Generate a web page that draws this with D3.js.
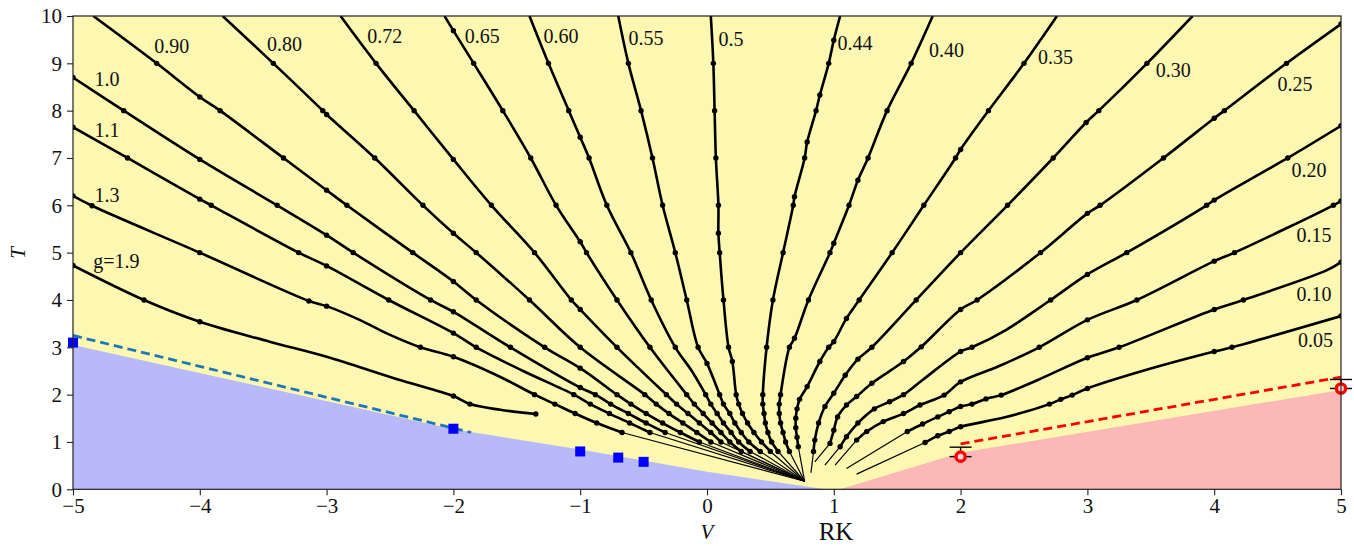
<!DOCTYPE html>
<html>
<head>
<meta charset="utf-8">
<script src="https://cdn.jsdelivr.net/npm/d3@7"></script>
<style>
body { margin: 0; background: #fff; }
text { font-family: "Liberation Serif", "DejaVu Serif", serif; fill: #111; }
</style>
</head>
<body>
<svg id="chart" width="1354" height="546"></svg>
<script>
// tick values
var xTicks = [-5, -4, -3, -2, -1, 0, 1, 2, 3, 4, 5];
var yTicks = [0, 1, 2, 3, 4, 5, 6, 7, 8, 9, 10];

// curves of constant g: [V, T] measured points, [V, T, 0] = shape point with no marker
var g190 = [[-5,4.73],[-4.44,4.0],[-4.0,3.54],[-3.45,3.12,0],[-3.0,2.8,0],[-2.45,2.33,0],[-2.0,1.97],[-1.87,1.8],[-1.63,1.68,0],[-1.35,1.59]];
var g130 = [[-5,6.2],[-4.85,5.99],[-4.0,5.0],[-3.14,3.98],[-3.0,3.87],[-2.74,3.58,0],[-2.53,3.3,0],[-2.26,3.0],[-2.0,2.8],[-1.65,2.4,0],[-1.36,2.0],[-1.2,1.8],[-1.04,1.6],[-0.87,1.4],[-0.67,1.2]];
var g110 = [[-5,7.65],[-4.57,7.0],[-4.0,6.13],[-3.91,6.0],[-3.22,5.0],[-3.0,4.72],[-2.51,4.0],[-2.0,3.3],[-1.82,3.0],[-1.45,2.5,0],[-1.05,2.0],[-0.92,1.8],[-0.77,1.6],[-0.61,1.4],[-0.45,1.2]];
var g100 = [[-5,8.7],[-4.6,8.0],[-4.0,6.97],[-3.39,6.0],[-3.0,5.37],[-2.79,5.0],[-2.18,4.0],[-2.0,3.75],[-1.55,3.0],[-1.0,2.15],[-0.88,2.0],[-0.76,1.8],[-0.62,1.6],[-0.48,1.4],[-0.33,1.2]];
var g090 = [[-4.84,10,0],[-4.34,9.0],[-4.0,8.29],[-3.84,8.0],[-3.34,7.0],[-3.0,6.32],[-2.84,6.0],[-2.32,5.0],[-2.0,4.39],[-1.82,4.0],[-1.28,3.0],[-1.0,2.56],[-0.71,2.0],[-0.6,1.8],[-0.48,1.6],[-0.35,1.4],[-0.21,1.2],[-0.06,1.0]];
var g080 = [[-3.82,10,0],[-3.42,9.0],[-3.03,8.0],[-3.0,7.92],[-2.62,7.0],[-2.24,6.0],[-2.0,5.41],[-1.82,5.0],[-1.4,4.0],[-1.0,3.0],[-0.49,2.0],[-0.4,1.8],[-0.3,1.6],[-0.19,1.4],[-0.08,1.2],[0.03,1.0]];
var g072 = [[-2.89,10,0],[-2.61,9.0],[-2.31,8.0],[-2.0,6.97],[-1.7,6.0],[-1.36,5.0],[-1.07,4.0],[-1.0,3.8],[-0.71,3.0],[-0.32,2.0],[-0.24,1.8],[-0.15,1.6],[-0.06,1.4],[0.03,1.2],[0.11,1.0]];
var g065 = [[-2.07,10,0],[-2.0,9.69],[-1.84,9.0],[-1.61,8.0],[-1.39,7.0],[-1.19,6.0],[-1.0,5.23],[-0.95,5.0],[-0.71,4.0],[-0.45,3.0],[-0.16,2.0],[-0.1,1.8],[-0.03,1.6],[0.04,1.4],[0.11,1.2],[0.18,1.0],[0.27,0.8]];
var g060 = [[-1.4,10,0],[-1.25,9.0],[-1.09,8.0],[-1.0,7.44],[-0.93,7.0],[-0.79,6.0],[-0.6,5.0],[-0.44,4.0],[-0.25,3.0],[-0.12,2.5,0],[-0.01,2.0],[0.03,1.8],[0.08,1.6],[0.13,1.4],[0.19,1.2],[0.25,1.0],[0.34,0.8]];
var g055 = [[-0.7,10,0],[-0.62,9.0],[-0.52,8.0],[-0.43,7.0],[-0.35,6.0],[-0.25,5.0],[-0.16,4.0],[-0.07,3.0],[0.0,2.66],[0.1,2.0],[0.13,1.8],[0.18,1.6],[0.22,1.4],[0.27,1.2],[0.33,1.0],[0.42,0.8]];
var g050 = [[0.03,10,0],[0.05,9.0],[0.06,8.0],[0.07,7.0],[0.09,6.0],[0.09,5.41],[0.1,5.0],[0.13,4.0],[0.17,3.0],[0.2,2.7],[0.23,2.0],[0.25,1.8],[0.28,1.6],[0.32,1.4],[0.37,1.2],[0.43,1.0],[0.5,0.8]];
var g044 = [[1.05,10,0],[1.0,9.49],[0.96,9.0],[0.89,8.33],[0.86,8.0],[0.79,7.34],[0.77,7.0],[0.69,6.18],[0.68,6.0],[0.6,5.0],[0.52,4.0],[0.47,3.0],[0.44,2.0],[0.44,1.8],[0.45,1.6],[0.46,1.4],[0.48,1.2],[0.51,1.0],[0.56,0.8]];
var g040 = [[1.78,10,0],[1.61,9.0],[1.42,8.0],[1.27,7.0],[1.19,6.53],[1.12,6.0],[1.0,5.2],[0.97,5.0],[0.8,4.0],[0.69,3.19],[0.65,3.0],[0.58,2.0],[0.57,1.8],[0.57,1.6],[0.58,1.4],[0.6,1.2],[0.62,1.0],[0.65,0.8]];
var g035 = [[2.76,10,0],[2.5,9.0],[2.22,8.0],[2.0,7.18],[1.96,7.0],[1.71,6.0],[1.46,5.0],[1.2,4.0],[1.1,3.61],[1.0,3.12],[0.96,3.0],[0.89,2.7],[0.79,2.17],[0.73,1.9],[0.71,1.7],[0.7,1.5],[0.7,1.3],[0.71,1.1],[0.72,0.9]];
var g030 = [[3.83,10,0],[3.47,9.0],[3.09,8.0],[2.99,7.75],[2.73,7.0],[2.37,6.0],[2.0,5.0],[1.65,4.0],[1.3,3.0],[1.19,2.75],[1.09,2.41],[1.0,2.03],[0.93,1.75],[0.88,1.4],[0.85,1.04],[0.84,0.8]];
var g025 = [[5,9.83],[4.57,9.0],[4.08,8.0],[4.0,7.84],[3.6,7.0],[3.1,6.0],[3.0,5.83],[2.63,5.0],[2.13,4.0],[2.0,3.8],[1.69,3.01],[1.55,2.7],[1.3,2.24],[1.18,1.96],[1.1,1.78],[1.03,1.53],[1.0,1.25],[0.97,0.97]];
var g020 = [[5,7.68],[4.58,7.0],[4.0,6.11],[3.94,6.0],[3.31,5.0],[3.0,4.54],[2.71,4.0],[2.36,3.37,0],[2.09,3.0],[2.0,2.91],[1.7,2.31,0],[1.55,2.0],[1.44,1.85],[1.32,1.7],[1.19,1.4],[1.1,1.11],[1.05,0.9]];
var g015 = [[5,6.09],[4.94,6.0],[4.16,5.0],[4.0,4.82],[3.39,4.0],[3.0,3.58],[2.62,3.0],[2.3,2.6,0],[2.0,2.27],[1.87,1.99],[1.68,1.78],[1.55,1.6],[1.39,1.43],[1.26,1.22],[1.18,1.04]];
var g010 = [[5,4.8],[4.89,4.63,0],[4.23,4.0],[4.0,3.8],[3.25,3.0],[3.0,2.78],[2.6,2.3,0],[2.32,1.99],[2.2,1.91],[2.09,1.8],[2.0,1.75],[1.91,1.64],[1.82,1.53],[1.7,1.38],[1.58,1.22]];
var g005 = [[5,3.66],[4.14,3.0],[4.0,2.91],[3.5,2.55,0],[3.0,2.13],[2.88,1.99],[2.79,1.9],[2.7,1.8],[2.35,1.52,0],[2.0,1.32],[1.91,1.22],[1.82,1.13],[1.72,0.99]];

var curves = [g190, g130, g110, g100, g090, g080, g072, g065, g060, g055, g050, g044, g040, g035, g030, g025, g020, g015, g010, g005];

// thin extrapolated end of each curve (null = none)
var focus = [0.77, 0.17];
var tailEnds = [null, focus, focus, focus, focus, focus, focus, focus, focus, focus, focus, focus, focus, focus,
                [0.82, 0.35], [0.85, 0.58], [0.93, 0.51], [1.01, 0.51], [1.1, 0.44], [1.18, 0.32]];

// curve labels and where they sit (V, T of text baseline start)
var labelText = ["g=1.9", "1.3", "1.1", "1.0", "0.90", "0.80", "0.72", "0.65", "0.60", "0.55", "0.5", "0.44", "0.40", "0.35", "0.30", "0.25", "0.20", "0.15", "0.10", "0.05"];
var labelV = [-4.84, -4.83, -4.83, -4.83, -4.36, -3.47, -2.68, -1.91, -1.29, -0.62, 0.09, 1.03, 1.75, 2.61, 3.54, 4.50, 4.61, 4.65, 4.65, 4.66];
var labelT = [4.68, 6.07, 7.45, 8.53, 9.22, 9.26, 9.43, 9.43, 9.43, 9.39, 9.37, 9.28, 9.13, 8.99, 8.71, 8.41, 6.60, 5.23, 3.98, 3.01];

// phase regions
var blueRegion = [[-5, 0], [-5, 3.05], [-2.0, 1.27], [-1.0, 0.84], [0, 0.37], [0.93, 0]];
var pinkRegion = [[1.05, 0], [2.0, 0.77], [5, 2.1], [5, 0]];

// boundary estimates
var blueDash = [[-5, 3.25], [-1.86, 1.2]];
var redDash = [[2, 0.96], [5, 2.37]];

var squareV = [-5, -2, -1, -0.7, -0.5];
var squareT = [3.1, 1.28, 0.8, 0.67, 0.58];

var circleV = [2, 5];
var circleT = [0.69, 2.13];
var errLo = [0.69, 2.13];
var errHi = [0.89, 2.32];

var svg = d3.select("#chart");
var x = d3.scaleLinear().domain([-5, 5]).range([73, 1341]);
var y = d3.scaleLinear().domain([0, 10]).range([489.3, 16]);

svg.append("defs").append("clipPath").attr("id", "clip")
  .append("rect").attr("x", 73).attr("y", 16).attr("width", 1268).attr("height", 473.3);

var poly = d3.line().x(function(d) { return x(d[0]); }).y(function(d) { return y(d[1]); });

svg.append("rect").attr("x", 73).attr("y", 16).attr("width", 1268).attr("height", 473.3)
  .attr("fill", "#fcf7b1");
svg.append("path").attr("d", poly(blueRegion) + "Z").attr("fill", "#b7b9fa");
svg.append("path").attr("d", poly(pinkRegion) + "Z").attr("fill", "#fcb7b7");

var plot = svg.append("g").attr("clip-path", "url(#clip)");

var smooth = d3.line()
  .x(function(d) { return x(d[0]); })
  .y(function(d) { return y(d[1]); })
  .curve(d3.curveCatmullRom.alpha(0.5));

// thin tails
curves.forEach(function(c, i) {
  if (!tailEnds[i]) return;
  plot.append("path")
    .attr("d", poly([c[c.length - 1], tailEnds[i]]))
    .attr("fill", "none").attr("stroke", "#000").attr("stroke-width", 1.2);
});

// main curves
plot.selectAll("path.curve")
  .data(curves)
  .enter().append("path")
    .attr("class", "curve")
    .attr("d", smooth)
    .attr("fill", "none")
    .attr("stroke", "#000")
    .attr("stroke-width", 2.6)
    .attr("stroke-linejoin", "round");

// measured points
var dots = [];
curves.forEach(function(c) {
  c.forEach(function(p) { if (p[2] !== 0) dots.push(p); });
});
plot.selectAll("circle.pt")
  .data(dots)
  .enter().append("circle")
    .attr("class", "pt")
    .attr("cx", function(d) { return x(d[0]); })
    .attr("cy", function(d) { return y(d[1]); })
    .attr("r", 2.7)
    .attr("fill", "#000");

// labels
svg.selectAll("text.glab")
  .data(labelText)
  .enter().append("text")
    .attr("class", "glab")
    .attr("x", function(d, i) { return x(labelV[i]); })
    .attr("y", function(d, i) { return y(labelT[i]); })
    .style("font-size", "20px")
    .text(function(d) { return d; });

// dashed boundaries
svg.append("path").attr("d", poly(blueDash))
  .attr("stroke", "#1f77b4").attr("stroke-width", 2.8).attr("stroke-dasharray", "9,5").attr("fill", "none");
svg.append("path").attr("d", poly(redDash))
  .attr("stroke", "#ff0000").attr("stroke-width", 2.8).attr("stroke-dasharray", "9,5").attr("fill", "none");

// blue squares
svg.selectAll("rect.sq")
  .data(squareV)
  .enter().append("rect")
    .attr("class", "sq")
    .attr("x", function(d) { return x(d) - 5; })
    .attr("y", function(d, i) { return y(squareT[i]) - 5; })
    .attr("width", 10).attr("height", 10)
    .attr("fill", "#0000ff");

// error bars
circleV.forEach(function(v, i) {
  var g = svg.append("g").attr("stroke", "#000").attr("stroke-width", 1.4);
  g.append("line").attr("x1", x(v)).attr("x2", x(v)).attr("y1", y(errLo[i])).attr("y2", y(errHi[i]));
  g.append("line").attr("x1", x(v) - 11).attr("x2", x(v) + 11).attr("y1", y(errLo[i])).attr("y2", y(errLo[i]));
  g.append("line").attr("x1", x(v) - 11).attr("x2", x(v) + 11).attr("y1", y(errHi[i])).attr("y2", y(errHi[i]));
});
svg.selectAll("circle.rc")
  .data(circleV)
  .enter().append("circle")
    .attr("class", "rc")
    .attr("cx", function(d) { return x(d); })
    .attr("cy", function(d, i) { return y(circleT[i]); })
    .attr("r", 4.6)
    .attr("fill", "#ffd6d6")
    .attr("stroke", "#ff0000")
    .attr("stroke-width", 3.4);

// axes
function fmt(d) { return d < 0 ? "\u2212" + Math.abs(d) : "" + d; }

var xAxis = svg.append("g").attr("transform", "translate(0,489.3)")
  .call(d3.axisBottom(x).tickValues(xTicks).tickSize(6).tickPadding(3).tickFormat(fmt));
var yAxis = svg.append("g").attr("transform", "translate(73,0)")
  .call(d3.axisLeft(y).tickValues(yTicks).tickSize(6).tickPadding(5).tickFormat(fmt));
[xAxis, yAxis].forEach(function(a) {
  a.select(".domain").remove();
  a.selectAll("line").attr("stroke", "#222").attr("stroke-width", 1.1);
  a.selectAll("text").style("font-size", "21px").style("font-family", "Liberation Serif, serif").attr("fill", "#111");
});

// frame
svg.append("rect").attr("x", 73).attr("y", 16).attr("width", 1268).attr("height", 473.3)
  .attr("fill", "none").attr("stroke", "#222").attr("stroke-width", 1.2);

// axis titles
svg.append("text").attr("transform", "translate(25,253) rotate(-90)")
  .attr("text-anchor", "middle").style("font-size", "21px").style("font-style", "italic").text("T");
svg.append("text").attr("x", 707).attr("y", 539)
  .attr("text-anchor", "middle").style("font-size", "21px").style("font-style", "italic").text("V");
svg.append("text").attr("x", 836).attr("y", 540)
  .attr("text-anchor", "middle").style("font-size", "25px").text("RK");
</script>
</body>
</html>
